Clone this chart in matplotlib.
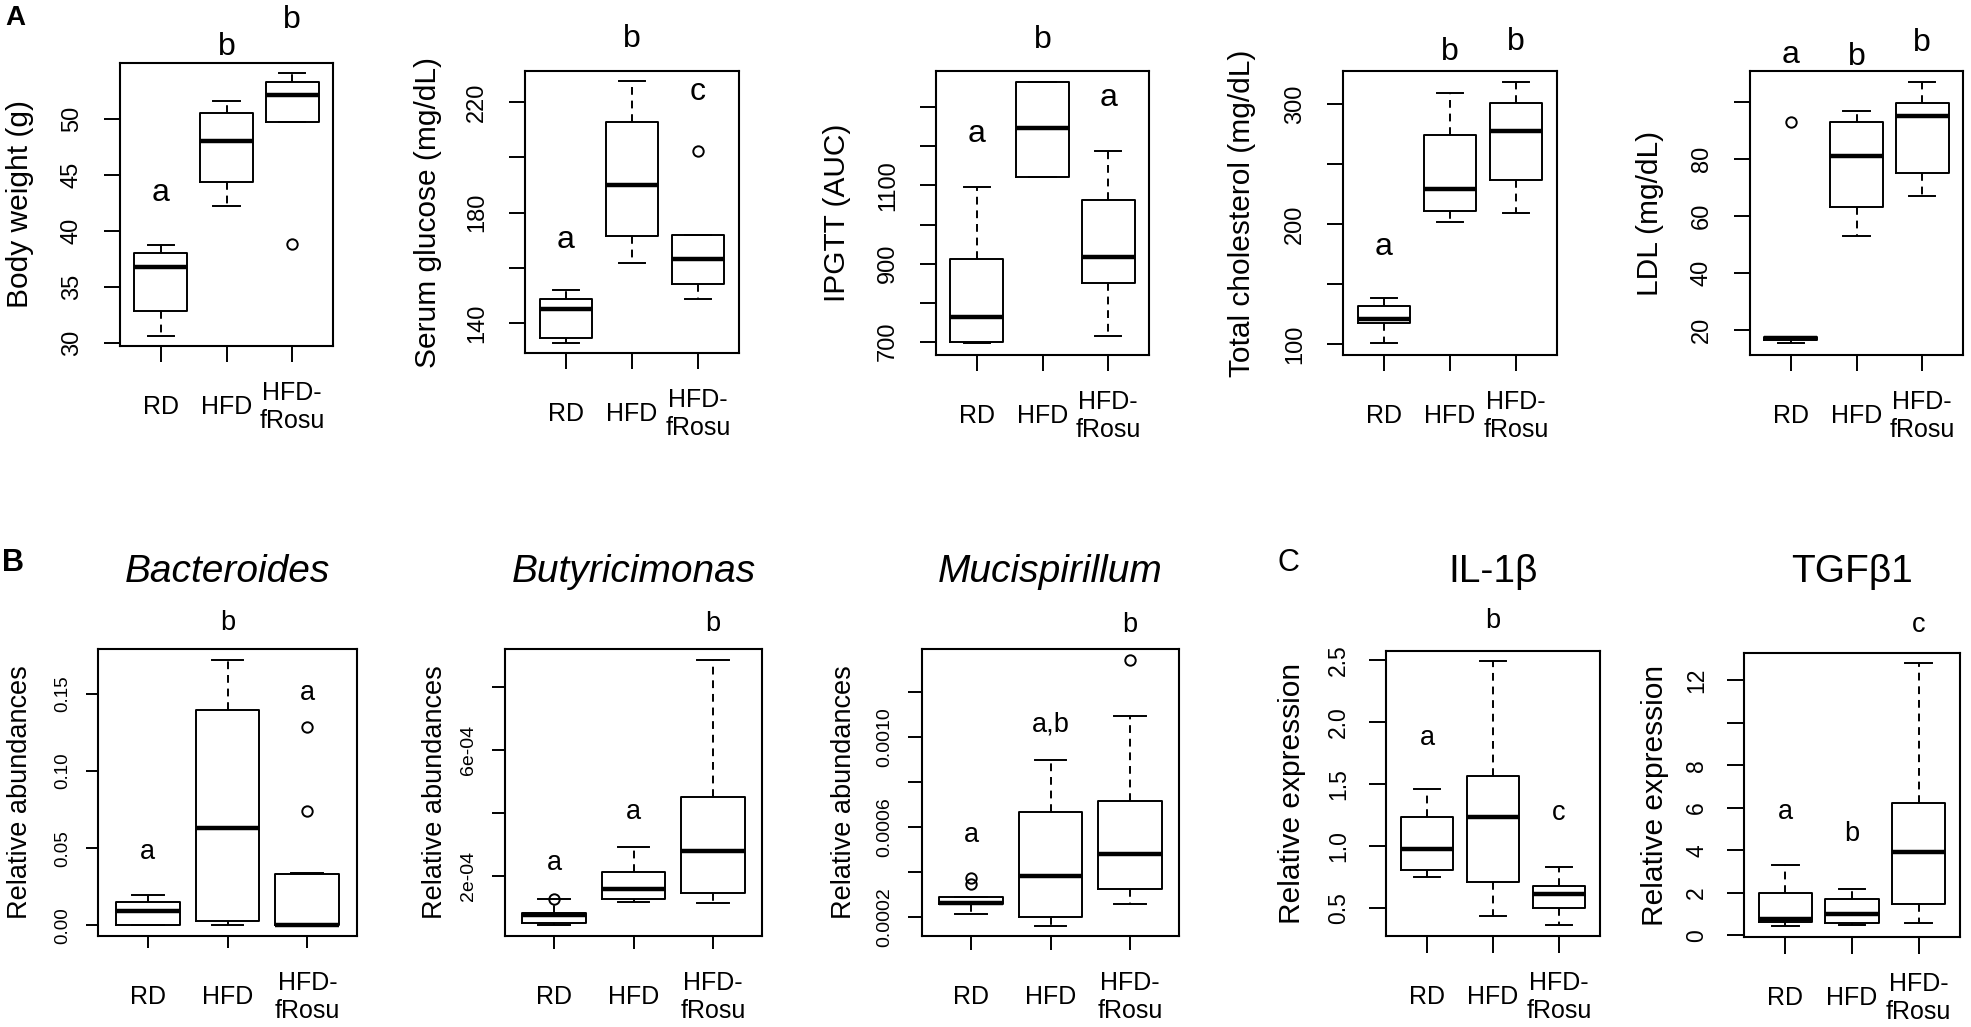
import matplotlib
matplotlib.use("Agg")
import matplotlib.pyplot as plt

plt.rcParams['font.family'] = ['Liberation Sans', 'DejaVu Sans']

W, H = 1971, 1027
groups = ["RD", "HFD", "HFD-\nfRosu"]

# five-number summaries per group: [lower whisker, Q1, median, Q3, upper whisker]
body_weight = [[30.6, 32.8, 36.8, 38.0, 38.75], [42.2, 44.4, 48.0, 50.5, 51.6], [49.7, 49.7, 52.1, 53.3, 54.1]]
body_weight_out = [[], [], [38.8]]
body_weight_letters = [("a", 43.4), ("b", 56.4), ("b", 58.8)]

glucose = [[132.8, 134.8, 145.0, 148.8, 152.0], [161.9, 171.5, 189.9, 212.8, 227.6], [148.8, 154.2, 163.1, 171.9, 171.9]]
glucose_out = [[], [], [202.2]]
glucose_letters = [("a", 170), ("b", 242.6), ("c", 223.5)]

ipgtt = [[697, 700, 764, 911, 1097], [1122, 1122, 1246, 1365, 1365], [715, 850, 918, 1063, 1188]]
ipgtt_out = [[], [], []]
ipgtt_letters = [("a", 1233), ("b", 1472), ("a", 1323)]

cholesterol = [[100.6, 117.8, 120.8, 131.7, 138.6], [201.9, 210.8, 229.2, 274.2, 309.4], [208.9, 236.7, 277.5, 301.1, 318.6]]
cholesterol_out = [[], [], []]
cholesterol_letters = [("a", 181), ("b", 343.6), ("b", 352)]

ldl = [[15.3, 16.5, 17.1, 17.6, 17.6], [53.0, 63.3, 81.1, 93.0, 97.0], [67.1, 75.3, 95.2, 99.9, 107.2]]
ldl_out = [[93.0], [], []]
ldl_letters = [("a", 116.6), ("b", 116), ("b", 120.7)]

bacteroides = [[0.0, 0.0, 0.0095, 0.0149, 0.0197], [0.0, 0.003, 0.063, 0.1394, 0.1723], [0.0, 0.0, 0.0, 0.0335, 0.034]]
bacteroides_out = [[], [], [0.1286, 0.0744]]
bacteroides_letters = [("a", 0.0478), ("b", 0.196), ("a", 0.1506)]

butyricimonas = [[0.45e-4, 0.5e-4, 0.76e-4, 0.82e-4, 1.27e-4], [1.17e-4, 1.27e-4, 1.58e-4, 2.14e-4, 2.93e-4],
                 [1.16e-4, 1.47e-4, 2.80e-4, 4.51e-4, 8.85e-4]]
butyricimonas_out = [[1.27e-4], [], []]
butyricimonas_letters = [("a", 2.4e-4), ("a", 4.03e-4), ("b", 9.97e-4)]

mucispirillum = [[2.13e-4, 2.58e-4, 2.62e-4, 2.92e-4, 2.92e-4], [1.63e-4, 2.03e-4, 3.84e-4, 6.7e-4, 9.0e-4],
                 [2.58e-4, 3.26e-4, 4.8e-4, 7.15e-4, 10.93e-4]]
mucispirillum_out = [[3.48e-4, 3.74e-4], [], [13.42e-4]]
mucispirillum_letters = [("a", 5.66e-4), ("a,b", 10.56e-4), ("b", 15.0e-4)]

il1b = [[0.754, 0.808, 0.977, 1.233, 1.458], [0.44, 0.714, 1.238, 1.568, 2.494], [0.366, 0.505, 0.613, 0.68, 0.83]]
il1b_out = [[], [], []]
il1b_letters = [("a", 1.869), ("b", 2.816), ("c", 1.265)]

tgfb1 = [[0.42, 0.63, 0.75, 2.0, 3.31], [0.5, 0.58, 1.02, 1.69, 2.16], [0.58, 1.49, 3.91, 6.25, 12.82]]
tgfb1_out = [[], [], []]
tgfb1_letters = [("a", 5.79), ("b", 4.77), ("c", 14.61)]

fig = plt.figure(figsize=(W / 100, H / 100), dpi=100)


def rect(x0, y0, x1, y1):
    return [x0 / W, 1 - y1 / H, (x1 - x0) / W, (y1 - y0) / H]


def panel(box, summ, outl, letters, ylim, ticks, tlabels, ylabel, ylab_dx,
          tick_fs, ylab_fs, let_fs, ticklen, ypad, title=None, italic=False):
    ax = fig.add_axes(rect(*box))
    stats = [dict(whislo=s[0], q1=s[1], med=s[2], q3=s[3], whishi=s[4], fliers=o)
             for s, o in zip(summ, outl)]
    ax.bxp(stats, positions=[1, 2, 3], widths=0.8, capwidths=0.4, manage_ticks=False,
           boxprops=dict(color="black", lw=1.4),
           whiskerprops=dict(color="black", lw=1.4, linestyle=(0, (4, 3))),
           capprops=dict(color="black", lw=1.4),
           medianprops=dict(color="black", lw=3.2, solid_capstyle="butt"),
           flierprops=dict(marker="o", mfc="none", mec="black", ms=7.5, mew=1.4))
    ax.set_xlim(0.38, 3.62)
    ax.set_ylim(ylim)
    for s in ax.spines.values():
        s.set_linewidth(1.5)
    ax.set_yticks(ticks, tlabels, rotation=90, va="center", fontsize=tick_fs)
    ax.set_xticks([1, 2, 3], groups, fontsize=18, va="center", linespacing=1.2)
    ax.tick_params(axis="y", length=ticklen * 0.72, width=1.4, pad=ypad * 0.72)
    ax.tick_params(axis="x", length=ticklen * 0.72, width=1.4, pad=(61 - ticklen) * 0.72)
    for i, (txt, y) in enumerate(letters):
        ax.text(i + 1, y, txt, ha="center", va="center", fontsize=let_fs, clip_on=False)
    ax.annotate(ylabel, xy=(0, 0.5), xycoords="axes fraction", xytext=(-ylab_dx * 0.72, 0),
                textcoords="offset points", rotation=90, ha="center", va="center", fontsize=ylab_fs)
    if title:
        cx = (box[0] + box[2]) / 2 / W
        fig.text(cx, 1 - 572 / H, title, ha="center", va="center", fontsize=28,
                 style="italic" if italic else "normal")
    return ax


# row A
panel((120, 63, 333, 346), body_weight, body_weight_out, body_weight_letters, (29.7, 55.0),
      [30, 35, 40, 45, 50], ["30", "35", "40", "45", "50"], "Body weight (g)", 100, 17, 21.5, 23, 16, 21)
panel((525, 71, 739, 353), glucose, glucose_out, glucose_letters, (129.2, 231.2),
      [140, 160, 180, 200, 220], ["140", "", "180", "", "220"], "Serum glucose (mg/dL)", 97, 17, 21.5, 23, 16, 21)
panel((936, 71, 1149, 355), ipgtt, ipgtt_out, ipgtt_letters, (666, 1393),
      [700, 800, 900, 1000, 1100, 1200, 1300], ["700", "", "900", "", "1100", "", ""], "IPGTT (AUC)", 99, 17, 21.5, 23, 16, 21)
panel((1343, 71, 1557, 355), cholesterol, cholesterol_out, cholesterol_letters, (90.8, 327.5),
      [100, 150, 200, 250, 300], ["100", "", "200", "", "300"], "Total cholesterol (mg/dL)", 101, 17, 21.5, 23, 16, 21)
panel((1750, 71, 1963, 355), ldl, ldl_out, ldl_letters, (11.2, 111),
      [20, 40, 60, 80, 100], ["20", "40", "60", "80", ""], "LDL (mg/dL)", 100, 17, 21.5, 23, 16, 21)

# row B
panel((98, 649, 357, 936), bacteroides, bacteroides_out, bacteroides_letters, (-0.0069, 0.1792),
      [0, 0.05, 0.10, 0.15], ["0.00", "0.05", "0.10", "0.15"], "Relative abundances", 78, 13.5, 19.5, 19.5, 12, 15,
      title="Bacteroides", italic=True)
panel((505, 649, 762, 936), butyricimonas, butyricimonas_out, butyricimonas_letters, (0.1e-4, 9.19e-4),
      [2e-4, 4e-4, 6e-4, 8e-4], ["2e-04", "", "6e-04", ""], "Relative abundances", 70, 14, 19.5, 19.5, 13, 15,
      title="Butyricimonas", italic=True)
panel((922, 649, 1179, 936), mucispirillum, mucispirillum_out, mucispirillum_letters, (1.168e-4, 13.93e-4),
      [2e-4, 4e-4, 6e-4, 8e-4, 10e-4, 12e-4], ["0.0002", "", "0.0006", "", "0.0010", ""],
      "Relative abundances", 78, 14, 19.5, 19.5, 14, 15, title="Mucispirillum", italic=True)

# row C
panel((1386, 651, 1600, 936), il1b, il1b_out, il1b_letters, (0.277, 2.574),
      [0.5, 1.0, 1.5, 2.0, 2.5], ["0.5", "1.0", "1.5", "2.0", "2.5"], "Relative expression", 94, 16.5, 21.5, 19.5, 17, 19,
      title="IL-1β")
panel((1744, 653, 1960, 937), tgfb1, tgfb1_out, tgfb1_letters, (-0.08, 13.29),
      [0, 2, 4, 6, 8, 10, 12], ["0", "2", "4", "6", "8", "", "12"], "Relative expression", 89, 16.5, 21.5, 19.5, 17, 19,
      title="TGFβ1")

fig.text(15 / W, 1 - 18 / H, "A", ha="center", va="center", fontsize=20, fontweight="bold")
fig.text(13 / W, 1 - 563 / H, "B", ha="center", va="center", fontsize=22, fontweight="bold")
fig.text(1288 / W, 1 - 563 / H, "C", ha="center", va="center", fontsize=22)

fig.savefig("out.png", dpi=100)
